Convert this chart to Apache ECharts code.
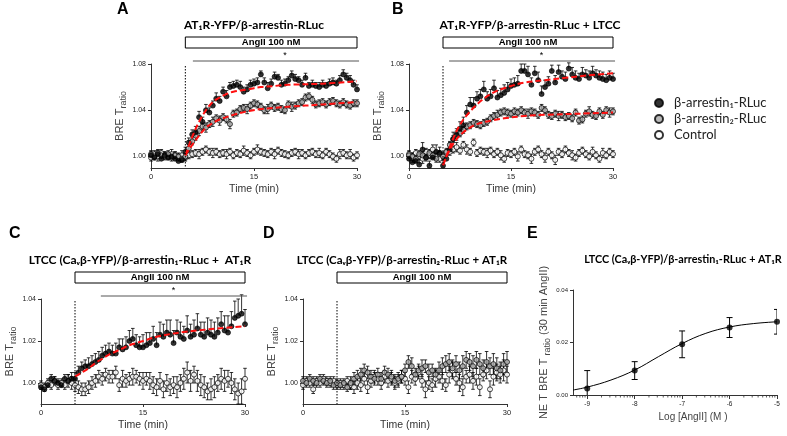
<!DOCTYPE html>
<html><head><meta charset="utf-8">
<script src="https://cdn.jsdelivr.net/npm/echarts@6/dist/echarts.min.js"></script>
<style>html,body{margin:0;padding:0;background:#fff}#c{width:787px;height:436px}</style>
</head><body><div id="c"></div>
<script>
// ---------------- DATA ----------------
const time = [0,0.5,1,1.5,2,2.5,3,3.5,4,4.5,5,5.5,6,6.5,7,7.5,8,8.5,9,9.5,10,10.5,11,11.5,12,12.5,13,13.5,14,14.5,15,15.5,16,16.5,17,17.5,18,18.5,19,19.5,20,20.5,21,21.5,22,22.5,23,23.5,24,24.5,25,25.5,26,26.5,27,27.5,28,28.5,29,29.5,30];
const ERR_UNIT = 0.001;

// Panel A
const A_arr1 = [1.001,0.999,1.002,0.998,1.001,0.999,1.000,0.998,0.996,0.997,1.004,
 1.012,1.019,1.021,1.034,1.030,1.040,1.038,1.044,1.050,1.048,
 1.056,1.052,1.060,1.061,1.062,1.060,1.056,1.058,1.062,1.063,
 1.064,1.071,1.064,1.059,1.063,1.069,1.068,1.062,1.063,1.066,
 1.070,1.067,1.066,1.062,1.068,1.061,1.062,1.061,1.060,1.062,
 1.061,1.063,1.064,1.063,1.066,1.071,1.068,1.066,1.062,1.058];
const A_arr2 = [1.002,1.000,1.003,1.001,1.000,1.002,0.999,1.001,1.000,0.998,1.000,
 1.007,1.013,1.018,1.022,1.026,1.025,1.028,1.030,1.033,1.031,
 1.034,1.032,1.028,1.037,1.038,1.041,1.042,1.041,1.044,1.046,
 1.045,1.043,1.040,1.041,1.044,1.042,1.043,1.041,1.040,1.045,
 1.043,1.044,1.046,1.047,1.051,1.052,1.049,1.045,1.046,1.047,
 1.045,1.047,1.048,1.046,1.045,1.047,1.045,1.044,1.046,1.046];
const A_ctrl = [0.999,1.002,1.000,1.003,1.001,1.000,1.002,1.001,0.999,1.001,0.999,
 1.001,1.002,1.003,1.002,1.004,1.006,1.004,1.003,1.004,1.002,
 1.003,1.002,1.004,1.001,1.003,1.002,1.005,1.003,1.001,1.004,
 1.006,1.004,1.003,1.002,1.004,1.002,1.005,1.003,1.002,1.001,
 1.003,1.004,1.002,1.003,1.001,1.003,1.004,1.002,1.003,1.001,
 1.004,1.002,1.000,0.998,1.002,1.003,1.001,1.002,0.999,1.001];
const A_arr1_err = [3,3,3,3,3,3,3,3,3,3,4, 4,4,5,5,4,5,4,4,5,4, 4,5,4,4,4,5,4,4,4,4, 4,3,4,5,4,4,3,4,4,3, 4,4,3,4,4,3,4,3,4,4, 3,4,4,3,4,4,4,4,4,4];
const A_arr2_err = [3,3,3,3,3,3,3,3,3,3,3, 3,3,4,4,3,4,3,4,3,4, 3,3,4,3,3,3,3,4,3,3, 3,3,3,4,3,3,3,3,3,3, 4,3,3,3,3,3,3,3,3,3, 3,3,3,3,3,3,3,3,3,3];
const A_ctrl_err = [3,3,4,3,3,3,4,3,3,4,3, 3,3,3,4,3,3,3,4,3,3, 3,4,3,3,3,3,4,3,3,3, 4,3,3,3,3,4,3,3,3,3, 3,3,4,3,3,3,3,3,4,3, 3,3,3,3,4,3,3,4,3,3];
const A_fit1_t = [5,6,7,8,9,10,11,12,14,16,18,20,25,30];
const A_fit1_v = [1.001,1.017,1.030,1.040,1.047,1.051,1.054,1.056,1.058,1.060,1.061,1.062,1.063,1.065];
const A_fit2_t = [5,6,7,8,9,10,12,14,16,18,20,25,30];
const A_fit2_v = [1.001,1.010,1.018,1.025,1.029,1.032,1.036,1.039,1.041,1.042,1.043,1.045,1.047];

// Panel B
const B_arr1 = [0.998,0.995,0.996,0.993,1.006,0.999,0.992,0.999,1.004,1.003,0.992,
 0.998,1.006,1.015,1.019,1.024,1.027,1.038,1.045,1.044,1.050,
 1.052,1.058,1.050,1.052,1.059,1.051,1.053,1.055,1.058,1.061,
 1.062,1.063,1.074,1.074,1.071,1.062,1.072,1.066,1.054,1.060,
 1.063,1.074,1.064,1.073,1.069,1.067,1.076,1.071,1.068,1.067,
 1.071,1.070,1.068,1.072,1.070,1.068,1.067,1.066,1.068,1.067];
const B_arr2 = [1.001,1.000,0.998,1.002,1.001,0.999,1.003,1.001,0.998,1.002,1.000,
 1.004,1.010,1.015,1.018,1.020,1.023,1.026,1.027,1.029,1.028,
 1.027,1.029,1.030,1.033,1.035,1.036,1.038,1.039,1.038,1.037,
 1.039,1.038,1.040,1.038,1.037,1.039,1.038,1.036,1.042,1.040,
 1.036,1.035,1.037,1.035,1.036,1.034,1.035,1.033,1.038,1.031,
 1.032,1.037,1.039,1.036,1.035,1.039,1.036,1.040,1.038,1.039];
const B_ctrl = [1.002,0.999,1.003,1.000,0.998,1.004,1.001,1.006,1.000,0.998,1.001,
 1.003,1.004,1.006,1.008,1.005,1.010,1.006,1.004,1.012,1.003,
 1.005,1.004,1.003,1.005,1.002,1.004,1.001,0.998,1.003,1.002,
 1.004,1.000,1.006,1.002,1.001,0.998,1.004,1.006,1.002,0.999,
 1.004,1.001,0.997,1.004,1.002,1.006,1.003,1.001,0.999,1.003,
 1.005,1.002,1.000,1.004,1.001,0.998,1.003,1.001,1.004,1.002];
const B_arr1_err = [4,5,4,5,6,5,4,5,6,5,5, 5,6,6,5,6,7,6,6,7,6, 6,7,6,6,7,6,6,7,6,6, 6,7,6,6,7,6,6,7,7,6, 6,5,6,6,5,6,5,6,6,5, 6,5,6,6,5,6,6,5,6,5];
const B_arr2_err = [3,3,3,3,3,3,3,3,3,3,3, 3,3,3,4,3,3,3,3,3,3, 3,3,3,3,3,4,3,3,3,3, 3,3,3,3,4,3,3,3,3,3, 3,3,3,4,3,3,3,3,3,3, 3,3,4,3,3,3,3,3,4,3];
const B_ctrl_err = [3,4,3,3,4,3,3,4,3,3,3, 3,3,3,4,3,3,4,3,3,3, 3,3,4,3,3,3,4,3,3,3, 3,4,3,3,3,4,3,3,3,4, 3,3,4,3,3,3,3,4,3,3, 3,3,3,4,3,3,4,3,3,3];
const B_fit1_t = [5,6,7,8,9,10,11,12,13,14,15,17,20,23,26,30];
const B_fit1_v = [0.992,1.008,1.022,1.032,1.039,1.045,1.050,1.054,1.057,1.059,1.061,1.064,1.066,1.068,1.070,1.072];
const B_fit2_t = [5,6,7,8,9,10,12,14,17,20,25,30];
const B_fit2_v = [0.993,1.006,1.015,1.021,1.025,1.028,1.031,1.033,1.035,1.036,1.037,1.038];

// Panel C
const C_arr1 = [0.998,0.997,0.999,1.002,1.001,1.000,0.999,1.002,1.001,1.002,1.002,
 1.005,1.007,1.008,1.008,1.009,1.010,1.011,1.013,1.014,1.015,
 1.014,1.014,1.017,1.016,1.017,1.020,1.021,1.018,1.017,1.017,
 1.018,1.019,1.021,1.018,1.023,1.022,1.024,1.023,1.019,1.024,
 1.022,1.021,1.025,1.022,1.023,1.026,1.023,1.022,1.024,1.023,
 1.022,1.024,1.028,1.025,1.024,1.027,1.031,1.032,1.033,1.028];
const C_ctrl = [0.999,0.998,1.000,0.999,1.001,0.999,1.000,0.999,1.001,1.000,0.999,
 0.998,0.997,0.997,0.998,1.000,1.001,1.003,1.002,1.004,1.003,
 1.003,1.005,0.999,1.002,1.001,1.002,1.003,1.003,1.002,1.001,
 1.002,1.001,0.999,0.998,1.001,0.997,1.000,0.998,0.999,0.998,
 1.000,1.002,1.005,1.001,1.004,1.001,0.999,0.998,0.996,0.997,
 0.998,1.000,1.002,1.001,1.002,1.000,0.997,0.995,0.996,1.002];
const C_arr1_err = [2,2,2,2,2,2,2,2,3,3,3, 3,3,3,4,4,4,4,4,4,4, 4,5,4,5,5,5,5,5,5,6, 6,5,6,6,6,6,6,7,6,6, 7,6,7,6,7,7,6,7,7,7, 7,7,6,7,8,7,8,8,9,7];
const C_ctrl_err = [2,2,2,2,2,2,2,2,3,3,3, 3,3,3,3,3,3,3,3,3,3, 3,3,3,4,3,3,4,3,3,4, 3,4,4,4,4,4,4,4,4,5, 4,5,5,5,4,5,5,5,4,5, 5,4,5,5,4,5,5,5,6,5];
const C_fit1_t = [5,6,7,8,9,10,11,12,13,14,15,17,19,21,23,26,30];
const C_fit1_v = [1.003,1.005,1.007,1.0095,1.0115,1.0135,1.015,1.0165,1.018,1.019,1.020,1.022,1.0233,1.0243,1.025,1.026,1.027];

// Panel D
const D_arr2 = [1.001,1.000,1.002,1.001,1.000,1.002,1.001,1.000,1.001,0.999,1.000,
 0.999,1.000,0.998,1.000,1.002,1.003,1.004,1.006,1.005,1.003,
 1.002,1.004,1.002,1.005,1.004,1.003,1.001,1.002,1.003,1.006,
 1.010,1.008,1.004,1.006,1.007,1.008,1.005,1.006,1.004,1.006,
 1.008,1.009,1.010,1.007,1.009,1.006,1.008,1.011,1.010,1.008,
 1.011,1.009,1.007,1.010,1.008,1.009,1.007,1.006,1.009,1.010];
const D_ctrl = [0.999,1.001,1.000,0.997,1.001,1.000,1.002,1.001,1.000,1.001,0.999,
 1.000,0.999,1.001,0.999,0.998,1.000,0.999,1.002,0.998,1.001,
 1.003,1.002,1.000,1.003,1.001,1.002,1.000,1.001,1.003,1.002,
 0.998,1.003,1.002,1.005,1.001,0.997,1.000,0.999,1.002,1.003,
 1.001,0.999,1.004,1.006,1.002,1.000,0.998,1.003,1.004,1.001,
 1.003,0.998,1.004,1.006,0.997,1.003,1.005,1.004,1.006,1.004];
const D_arr2_err = [2,2,2,2,2,2,2,2,2,2,2, 2,2,2,3,3,3,3,3,3,3, 3,3,3,3,3,3,3,3,3,3, 3,4,3,3,4,3,4,3,3,4, 4,4,4,4,4,4,5,4,4,5, 4,5,4,5,4,5,5,4,5,5];
const D_ctrl_err = [2,2,2,2,2,2,2,2,2,2,2, 2,2,2,2,3,3,3,3,3,3, 3,3,3,3,3,3,3,3,3,3, 3,3,3,3,3,4,3,3,4,3, 4,3,4,4,3,4,4,3,4,4, 4,4,3,4,4,4,4,4,5,4];

// Panel E (concentration-response)
const E_logC = [-9,-8,-7,-6,-5];
const E_resp = [0.0025,0.0093,0.0193,0.0257,0.0279];
const E_err = [0.0068,0.0034,0.0051,0.0038,0.0047];
const E_fit_x = [-9.3,-9,-8.5,-8,-7.5,-7,-6.5,-6,-5.5,-5];
const E_fit_y = [0.0019,0.0030,0.0057,0.0095,0.0146,0.0196,0.0235,0.0259,0.0272,0.0279];

// Annotations
const stimOn = 5, stimOff = 30, starT = 19.5;
const sigStart = [6.1, 5.9, 8.8, null];
const stimLabel = 'AngII 100 nM';
const names = {a1:'β-arrestin₁-RLuc', a2:'β-arrestin₂-RLuc', c:'Control'};

// ---------------- BUILD ----------------
const TF = '"Liberation Sans", Arial, sans-serif';
const HF = 'Lato, "Noto Sans", sans-serif';
const styles = {
  a1:{color:'#000', borderColor:'#000', borderWidth:0.8},
  a2:{color:'#a8a8a8', borderColor:'#000', borderWidth:0.9},
  c:{color:'#fff', borderColor:'#000', borderWidth:0.9}
};

function errRender(both){
  return function(params, api){
    const t=api.value(0), v=api.value(1), e=api.value(2);
    const top=api.coord([t, v+e]);
    const bot=api.coord([t, both? v-e : v]);
    const ls={stroke:'#000', lineWidth:0.8};
    const ch=[{type:'line', shape:{x1:top[0],y1:top[1],x2:bot[0],y2:bot[1]}, style:ls},
              {type:'line', shape:{x1:top[0]-1.8,y1:top[1],x2:top[0]+1.8,y2:top[1]}, style:ls}];
    if(both) ch.push({type:'line', shape:{x1:bot[0]-1.8,y1:bot[1],x2:bot[0]+1.8,y2:bot[1]}, style:ls});
    return {type:'group', children:ch};
  };
}

const series=[];
function addSeries(g, key, vals, errs, both){
  series.push({type:'custom', xAxisIndex:g, yAxisIndex:g, silent:true, z:2, clip:false,
    data: time.map((t,i)=>[t, vals[i], errs[i]*ERR_UNIT]), encode:{x:0,y:1},
    renderItem: errRender(both)});
  series.push({type:'scatter', name:names[key], xAxisIndex:g, yAxisIndex:g, silent:true, z:3,
    symbol:'circle', symbolSize:5, itemStyle:styles[key],
    data: time.map((t,i)=>[t, vals[i]])});
}
function addFit(g, ts, vs){
  series.push({type:'line', xAxisIndex:g, yAxisIndex:g, silent:true, z:4, smooth:0.35,
    symbol:'none', lineStyle:{color:'#ff1010', width:2, type:[6,3]},
    data: ts.map((t,i)=>[t, vs[i]])});
}
function addAnno(g, yMin){
  series.push({type:'custom', xAxisIndex:g, yAxisIndex:g, silent:true, z:6, clip:false,
    data:[[stimOn, yMin]], encode:{x:0,y:1},
    renderItem:function(params, api){
      const cs=params.coordSys;
      const x0=api.coord([stimOn,yMin])[0], x1=api.coord([stimOff,yMin])[0];
      const ch=[
        {type:'rect', shape:{x:x0, y:cs.y-27, width:x1-x0, height:11}, style:{fill:'#fff', stroke:'#000', lineWidth:1}},
        {type:'text', style:{text:stimLabel, x:(x0+x1)/2, y:cs.y-21.3, align:'center', verticalAlign:'middle', font:'bold 9.5px '+TF, fill:'#000'}},
        {type:'line', shape:{x1:x0,y1:cs.y+2,x2:x0,y2:cs.y+cs.height}, style:{stroke:'#000', lineWidth:1, lineDash:[1.5,1.5]}}
      ];
      if(sigStart[g]!=null){
        const xs=api.coord([sigStart[g],yMin])[0], xe=api.coord([30.3,yMin])[0], xa=api.coord([starT,yMin])[0];
        ch.push({type:'line', shape:{x1:xs,y1:cs.y-3,x2:xe,y2:cs.y-3}, style:{stroke:'#555', lineWidth:1}});
        ch.push({type:'text', style:{text:'*', x:xa, y:cs.y-4, align:'center', verticalAlign:'bottom', font:'9px '+TF, fill:'#000'}});
      }
      return {type:'group', children:ch};
    }});
}

// A
addSeries(0,'c',A_ctrl,A_ctrl_err,true);
addSeries(0,'a2',A_arr2,A_arr2_err,true);
addSeries(0,'a1',A_arr1,A_arr1_err,false);
addFit(0,A_fit1_t,A_fit1_v); addFit(0,A_fit2_t,A_fit2_v); addAnno(0,0.99);
// B
addSeries(1,'c',B_ctrl,B_ctrl_err,true);
addSeries(1,'a2',B_arr2,B_arr2_err,true);
addSeries(1,'a1',B_arr1,B_arr1_err,false);
addFit(1,B_fit1_t,B_fit1_v); addFit(1,B_fit2_t,B_fit2_v); addAnno(1,0.99);
// C
addSeries(2,'c',C_ctrl,C_ctrl_err,true);
addSeries(2,'a1',C_arr1,C_arr1_err,false);
addFit(2,C_fit1_t,C_fit1_v); addAnno(2,0.99);
// D
addSeries(3,'c',D_ctrl,D_ctrl_err,true);
addSeries(3,'a2',D_arr2,D_arr2_err,true);
addAnno(3,0.99);
// E
series.push({type:'line', xAxisIndex:4, yAxisIndex:4, silent:true, z:3, smooth:0.4, symbol:'none',
  lineStyle:{color:'#000', width:1}, data:E_fit_x.map((x,i)=>[x,E_fit_y[i]])});
series.push({type:'custom', xAxisIndex:4, yAxisIndex:4, silent:true, z:2, clip:true, encode:{x:0,y:1},
  data:E_logC.map((x,i)=>[x,E_resp[i],E_err[i]]), renderItem:function(params, api){
    const t=api.value(0), v=api.value(1), e=api.value(2);
    const top=api.coord([t,v+e]), bot=api.coord([t,v-e]);
    const ls={stroke:'#000', lineWidth:1};
    return {type:'group', children:[
      {type:'line', shape:{x1:top[0],y1:top[1],x2:bot[0],y2:bot[1]}, style:ls},
      {type:'line', shape:{x1:top[0]-3,y1:top[1],x2:top[0]+3,y2:top[1]}, style:ls},
      {type:'line', shape:{x1:bot[0]-3,y1:bot[1],x2:bot[0]+3,y2:bot[1]}, style:ls}]};
  }});
series.push({type:'scatter', xAxisIndex:4, yAxisIndex:4, silent:true, z:4, symbol:'circle', symbolSize:6,
  itemStyle:{color:'#000'}, data:E_logC.map((x,i)=>[x,E_resp[i]])});
// E minor log ticks
series.push({type:'custom', xAxisIndex:4, yAxisIndex:4, silent:true, z:5, clip:false, encode:{x:0,y:1},
  data:[[-9,0]], renderItem:function(params, api){
    const cs=params.coordSys, ch=[];
    for(let n=-10;n<=-6;n++){ for(let k=2;k<=9;k++){
      const v=n+Math.log10(k); if(v<=-9.3||v>=-5) continue;
      const x=api.coord([v,0])[0];
      ch.push({type:'line', shape:{x1:x,y1:cs.y+cs.height,x2:x,y2:cs.y+cs.height+2.5}, style:{stroke:'#333', lineWidth:0.8}});
    }}
    return {type:'group', children:ch};
  }});

const axLine={show:true, onZero:false, lineStyle:{color:'#333', width:1}};
const axTick={show:true, length:3, lineStyle:{color:'#333', width:1}};
function xAx(g){ return {gridIndex:g, type:'value', min:0, max:30, interval:15, axisLine:axLine, axisTick:axTick,
  splitLine:{show:false}, axisLabel:{fontSize:7.5, color:'#222', margin:5, fontFamily:TF},
  name:'Time (min)', nameLocation:'middle', nameGap:16, nameTextStyle:{fontSize:10.5, color:'#333', fontFamily:TF}}; }
const brName='{a|BRE T}{s|ratio}';
const brRich={a:{fontSize:11, color:'#444', fontFamily:TF, lineHeight:12, verticalAlign:'top'},
              s:{fontSize:9, color:'#444', fontFamily:TF, lineHeight:9, padding:[5,0,0,0], verticalAlign:'top'}};
function yAx(g, max, ticks){ return {gridIndex:g, type:'value', min:0.99, max:max, axisLine:axLine,
  axisTick:Object.assign({customValues:ticks}, axTick), splitLine:{show:false},
  axisLabel:{customValues:ticks, formatter:v=>v.toFixed(2), fontSize:7, color:'#222', margin:5, fontFamily:TF},
  name:brName, nameLocation:'middle', nameRotate:90, nameGap:22, nameTextStyle:{rich:brRich}}; }

const option={
  animation:false, backgroundColor:'#fff',
  grid:[
    {left:151, top:64, width:206, height:104},
    {left:409, top:64, width:204, height:104},
    {left:41, top:299, width:204, height:105},
    {left:303, top:299, width:204, height:105},
    {left:573, top:290, width:204, height:105}
  ],
  xAxis:[xAx(0),xAx(1),xAx(2),xAx(3),
    {gridIndex:4, type:'value', min:-9.3, max:-5, axisLine:axLine, axisTick:Object.assign({customValues:E_logC}, axTick, {length:4}),
     splitLine:{show:false}, axisLabel:{customValues:E_logC, formatter:v=>String(v), fontSize:6.5, color:'#222', margin:6, fontFamily:TF},
     name:'Log [AngII] (M )', nameLocation:'middle', nameGap:17,
     nameTextStyle:{fontSize:10, color:'#444', fontFamily:TF, padding:[0,0,0,36]}}],
  yAxis:[yAx(0,1.08,[1.00,1.04,1.08]), yAx(1,1.08,[1.00,1.04,1.08]), yAx(2,1.04,[1.00,1.02,1.04]), yAx(3,1.04,[1.00,1.02,1.04]),
    {gridIndex:4, type:'value', min:0, max:0.04, interval:0.02, axisLine:axLine, axisTick:axTick, splitLine:{show:false},
     axisLabel:{formatter:v=>v.toFixed(2), fontSize:6, color:'#222', margin:5, fontFamily:TF},
     name:'{a|NE T BRE T }{s|ratio}{a| (30 min AngII)}', nameLocation:'middle', nameRotate:90, nameGap:22,
     nameTextStyle:{rich:brRich}}],
  legend:{left:649, top:91, orient:'vertical', itemWidth:8, itemHeight:8, itemGap:2, icon:'circle',
    data:[names.a1, names.a2, names.c], selectedMode:false,
    textStyle:{fontSize:13, lineHeight:14, color:'#222', fontFamily:HF, padding:[0,0,0,6]}},
  graphic:[
    {type:'text', x:117, y:2, style:{text:'A', font:'bold 16px '+TF, fill:'#000'}},
    {type:'text', x:392, y:2, style:{text:'B', font:'bold 16px '+TF, fill:'#000'}},
    {type:'text', x:9, y:226, style:{text:'C', font:'bold 16px '+TF, fill:'#000'}},
    {type:'text', x:263, y:226, style:{text:'D', font:'bold 16px '+TF, fill:'#000'}},
    {type:'text', x:527, y:226, style:{text:'E', font:'bold 16px '+TF, fill:'#000'}},
    {type:'text', x:254, y:25, style:{text:'AT₁R-YFP/β-arrestin-RLuc', font:'bold 12px '+HF, fill:'#000', align:'center', verticalAlign:'middle'}},
    {type:'text', x:530, y:25, style:{text:'AT₁R-YFP/β-arrestin-RLuc + LTCC', font:'bold 12px '+HF, fill:'#000', align:'center', verticalAlign:'middle'}},
    {type:'text', x:140, y:260, style:{text:'LTCC (Caᵥβ-YFP)/β-arrestin₁-RLuc +  AT₁R', font:'bold 12px '+HF, fill:'#000', align:'center', verticalAlign:'middle'}},
    {type:'text', x:402, y:260, style:{text:'LTCC (Caᵥβ-YFP)/β-arrestin₂-RLuc + AT₁R', font:'bold 11.5px '+HF, fill:'#000', align:'center', verticalAlign:'middle'}},
    {type:'text', x:683, y:260, style:{text:'LTCC (Caᵥβ-YFP)/β-arrestin₁-RLuc + AT₁R', font:'bold 10.8px '+HF, fill:'#000', align:'center', verticalAlign:'middle'}}
  ],
  series:series
};
const chart=echarts.init(document.getElementById('c'), null, {renderer:'canvas'});
chart.setOption(option);
</script></body></html>
